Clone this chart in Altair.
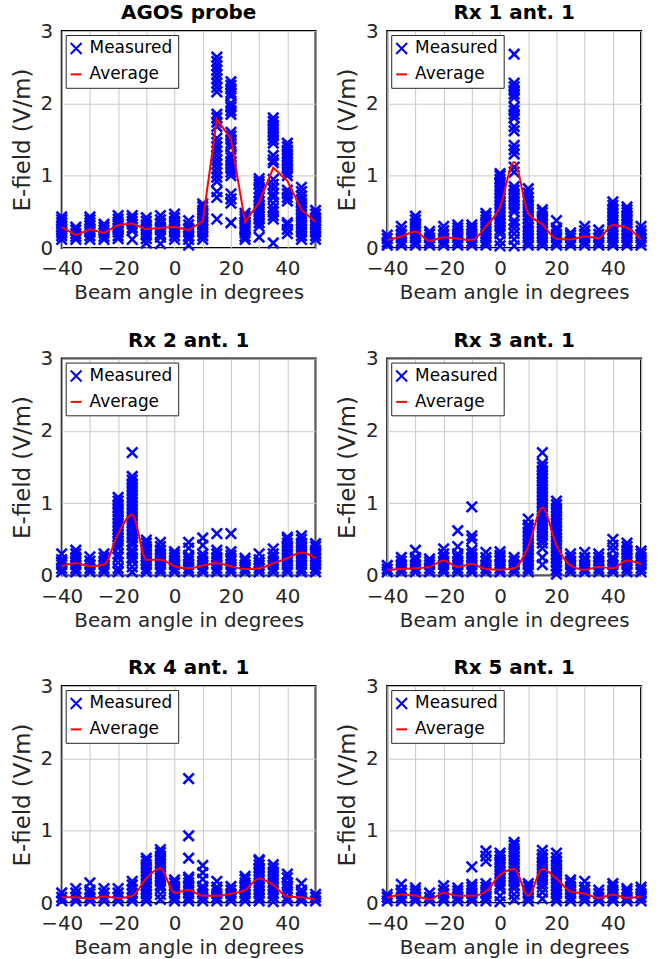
import altair as alt
import pandas as pd

# Beam steering angles (degrees)
ANGLES = [-40, -35, -30, -25, -20, -15, -10, -5, 0, 5, 10, 15, 20, 25, 30, 35, 40, 45, 50]
SERIES = ["Measured", "Average"]
X_GRID = [-40, -30, -20, -10, 0, 10, 20, 30, 40, 50]
Y_GRID = [0, 0.5, 1, 1.5, 2, 2.5, 3]

# --- AGOS probe -------------------------------------------------------------
agos_avg = [0.29, 0.18, 0.26, 0.21, 0.32, 0.34, 0.26, 0.28, 0.29, 0.25,
            0.37, 1.78, 1.51, 0.36, 0.63, 1.11, 0.93, 0.53, 0.36]
agos_meas = [
    "0.12 0.17 0.21 0.26 0.30 0.35 0.39 0.43",
    "0.12 0.16 0.20 0.25 0.29",
    "0.12 0.17 0.22 0.26 0.31 0.35 0.39 0.43",
    "0.12 0.16 0.21 0.25 0.29 0.33",
    "0.13 0.17 0.22 0.27 0.31 0.36 0.40 0.45",
    "0.12 0.24 0.28 0.33 0.37 0.41 0.45",
    "0.07 0.13 0.18 0.22 0.27 0.32 0.37 0.42",
    "0.06 0.15 0.20 0.25 0.29 0.34 0.39 0.45",
    "0.12 0.17 0.22 0.27 0.32 0.37 0.42 0.47",
    "0.04 0.12 0.17 0.22 0.27 0.32 0.38",
    "0.12 0.17 0.22 0.27 0.32 0.37 0.42 0.47 0.52 0.57 0.61",
    "0.40 0.70 0.78 0.92 0.98 1.04 1.10 1.16 1.22 1.28 1.34 1.40 1.46 1.52 1.68 1.74 1.80 1.85 2.16 2.22 2.28 2.34 2.40 2.46 2.52 2.58 2.64",
    "0.35 0.62 0.68 0.75 1.00 1.05 1.10 1.15 1.20 1.25 1.30 1.40 1.45 1.50 1.55 1.60 1.85 1.90 1.95 2.00 2.10 2.15 2.20 2.25 2.30",
    "0.12 0.16 0.21 0.26 0.30 0.35 0.40 0.44 0.48",
    "0.15 0.30 0.35 0.40 0.45 0.50 0.55 0.60 0.65 0.70 0.76 0.82 0.88 0.92 0.96",
    "0.07 0.40 0.45 0.50 0.55 0.62 0.70 0.75 0.82 0.88 0.95 1.18 1.22 1.28 1.45 1.50 1.55 1.60 1.65 1.70 1.75 1.80",
    "0.20 0.26 0.32 0.35 0.65 0.70 0.75 0.80 1.00 1.05 1.10 1.15 1.20 1.25 1.30 1.35 1.40 1.45",
    "0.12 0.17 0.22 0.27 0.32 0.37 0.42 0.47 0.52 0.57 0.62 0.67 0.72 0.78 0.84",
    "0.12 0.17 0.22 0.27 0.32 0.37 0.42 0.47 0.52",
]

# --- Rx 1 ant. 1 ------------------------------------------------------------
rx1_avg = [0.11, 0.16, 0.23, 0.10, 0.15, 0.13, 0.11, 0.30, 0.57, 1.19,
           0.48, 0.33, 0.13, 0.12, 0.16, 0.14, 0.32, 0.28, 0.12]
rx1_meas = [
    "0.04 0.08 0.13 0.18",
    "0.04 0.09 0.14 0.19 0.24 0.30",
    "0.04 0.09 0.14 0.19 0.24 0.29 0.34 0.39 0.44",
    "0.04 0.09 0.14 0.19 0.23",
    "0.04 0.09 0.14 0.19 0.24 0.30",
    "0.04 0.09 0.14 0.19 0.24 0.28 0.32",
    "0.04 0.09 0.14 0.19 0.24 0.28 0.32",
    "0.04 0.09 0.14 0.19 0.24 0.29 0.34 0.39 0.44 0.48",
    "0.03 0.10 0.20 0.25 0.30 0.35 0.40 0.45 0.50 0.55 0.60 0.65 0.70 0.75 0.80 0.85 0.90 0.95 1.00 1.03",
    "0.03 0.12 0.20 0.27 0.33 0.38 0.50 0.55 0.60 0.65 0.70 0.75 0.80 0.85 1.05 1.12 1.30 1.36 1.42 1.62 1.68 1.80 1.85 1.90 1.95 2.08 2.13 2.18 2.23 2.28 2.68",
    "0.04 0.09 0.14 0.19 0.24 0.29 0.34 0.40 0.45 0.50 0.55 0.60 0.65 0.70 0.76 0.82",
    "0.04 0.09 0.14 0.19 0.24 0.29 0.34 0.39 0.44 0.49 0.53",
    "0.04 0.09 0.14 0.19 0.24 0.28 0.38",
    "0.04 0.09 0.14 0.18 0.21",
    "0.04 0.09 0.14 0.19 0.24 0.30",
    "0.04 0.09 0.14 0.19 0.25",
    "0.04 0.09 0.14 0.19 0.24 0.29 0.34 0.39 0.44 0.49 0.54 0.59 0.64",
    "0.04 0.09 0.14 0.19 0.24 0.29 0.34 0.39 0.44 0.49 0.53 0.57",
    "0.04 0.09 0.14 0.19 0.24 0.30",
]

# --- Rx 2 ant. 1 ------------------------------------------------------------
rx2_avg = [0.13, 0.17, 0.13, 0.15, 0.58, 0.84, 0.22, 0.22, 0.13, 0.10,
           0.14, 0.17, 0.13, 0.09, 0.10, 0.17, 0.24, 0.32, 0.24]
rx2_meas = [
    "0.05 0.10 0.15 0.19 0.22 0.30",
    "0.05 0.10 0.15 0.20 0.25 0.30 0.35",
    "0.05 0.10 0.15 0.20 0.26",
    "0.05 0.10 0.15 0.20 0.25 0.30",
    "0.05 0.10 0.18 0.25 0.30 0.38 0.43 0.48 0.53 0.58 0.63 0.68 0.73 0.78 0.83 0.88 0.93 0.98 1.03 1.08",
    "0.05 0.12 0.20 0.25 0.30 0.35 0.42 0.47 0.52 0.57 0.62 0.67 0.72 0.77 0.82 0.87 0.92 0.97 1.02 1.07 1.12 1.17 1.22 1.27 1.32 1.37 1.70",
    "0.05 0.10 0.15 0.20 0.25 0.30 0.35 0.40 0.45 0.49",
    "0.05 0.10 0.15 0.20 0.25 0.30 0.35 0.40 0.46",
    "0.05 0.10 0.15 0.20 0.25 0.29 0.33",
    "0.05 0.10 0.15 0.20 0.24 0.28 0.38 0.46",
    "0.05 0.10 0.15 0.20 0.25 0.30 0.42 0.52",
    "0.05 0.10 0.15 0.20 0.25 0.30 0.35 0.58",
    "0.05 0.10 0.15 0.20 0.24 0.28 0.33 0.58",
    "0.05 0.10 0.15 0.20 0.24",
    "0.05 0.10 0.14 0.18 0.22 0.30",
    "0.05 0.10 0.15 0.20 0.25 0.30 0.37",
    "0.05 0.10 0.15 0.20 0.25 0.30 0.35 0.40 0.45 0.50 0.53",
    "0.05 0.10 0.15 0.20 0.25 0.30 0.35 0.40 0.45 0.50 0.55",
    "0.05 0.10 0.15 0.20 0.25 0.30 0.35 0.40 0.44",
]

# --- Rx 3 ant. 1 ------------------------------------------------------------
rx3_avg = [0.08, 0.09, 0.10, 0.12, 0.21, 0.12, 0.16, 0.09, 0.08, 0.10,
           0.40, 0.94, 0.42, 0.14, 0.08, 0.12, 0.10, 0.21, 0.16]
rx3_meas = [
    "0.05 0.09 0.14",
    "0.05 0.10 0.15 0.20 0.25",
    "0.05 0.10 0.15 0.20 0.25 0.35",
    "0.05 0.10 0.15 0.19 0.23",
    "0.05 0.10 0.15 0.20 0.25 0.30 0.37",
    "0.05 0.10 0.15 0.20 0.25 0.30 0.40 0.62",
    "0.05 0.10 0.15 0.20 0.25 0.30 0.35 0.50 0.55 0.95",
    "0.05 0.10 0.15 0.20 0.25 0.32",
    "0.05 0.10 0.15 0.20 0.25 0.28 0.33",
    "0.05 0.10 0.15 0.20 0.25",
    "0.05 0.10 0.15 0.20 0.25 0.30 0.35 0.40 0.45 0.50 0.55 0.60 0.65 0.70 0.78",
    "0.15 0.25 0.38 0.45 0.50 0.55 0.60 0.65 0.70 0.75 0.80 0.85 0.90 0.95 1.00 1.05 1.10 1.15 1.20 1.25 1.30 1.35 1.40 1.45 1.50 1.55 1.70",
    "0.02 0.08 0.13 0.18 0.23 0.28 0.33 0.38 0.43 0.48 0.53 0.58 0.63 0.68 0.73 0.78 0.83 0.88 0.93 0.98 1.03",
    "0.05 0.10 0.15 0.20 0.25 0.30",
    "0.05 0.10 0.15 0.20 0.25 0.32",
    "0.05 0.10 0.15 0.20 0.25 0.30",
    "0.05 0.10 0.15 0.20 0.25 0.35 0.42 0.50",
    "0.05 0.10 0.15 0.20 0.25 0.30 0.35 0.40 0.45",
    "0.05 0.10 0.15 0.20 0.25 0.30 0.34",
]

# --- Rx 4 ant. 1 ------------------------------------------------------------
rx4_avg = [0.08, 0.08, 0.06, 0.09, 0.07, 0.10, 0.34, 0.48, 0.14, 0.18,
           0.10, 0.10, 0.13, 0.18, 0.34, 0.25, 0.09, 0.08, 0.05]
rx4_meas = [
    "0.03 0.08 0.14",
    "0.03 0.08 0.14 0.20",
    "0.03 0.08 0.13 0.18 0.28",
    "0.03 0.08 0.14 0.20",
    "0.03 0.08 0.14 0.20",
    "0.03 0.08 0.13 0.19 0.25 0.30",
    "0.03 0.08 0.13 0.18 0.23 0.28 0.33 0.38 0.43 0.48 0.53 0.58 0.62",
    "0.05 0.12 0.20 0.25 0.30 0.35 0.40 0.45 0.50 0.55 0.60 0.65 0.70 0.74",
    "0.03 0.08 0.13 0.18 0.23 0.28 0.32",
    "0.03 0.08 0.13 0.18 0.23 0.28 0.33 0.36 0.62 0.93 1.72",
    "0.03 0.08 0.13 0.18 0.23 0.33 0.42 0.52",
    "0.03 0.08 0.13 0.18 0.22 0.30",
    "0.03 0.08 0.13 0.18 0.23",
    "0.03 0.08 0.13 0.18 0.23 0.28 0.33 0.37",
    "0.03 0.08 0.13 0.18 0.23 0.28 0.33 0.38 0.43 0.48 0.53 0.58 0.60",
    "0.02 0.08 0.13 0.18 0.23 0.28 0.33 0.38 0.43 0.48 0.53",
    "0.03 0.08 0.15 0.20 0.24 0.28 0.35 0.40",
    "0.03 0.08 0.13 0.18 0.27",
    "0.03 0.08 0.12",
]

# --- Rx 5 ant. 1 ------------------------------------------------------------
rx5_avg = [0.07, 0.12, 0.10, 0.05, 0.14, 0.10, 0.10, 0.16, 0.39, 0.47,
           0.10, 0.47, 0.34, 0.16, 0.13, 0.07, 0.12, 0.07, 0.09]
rx5_meas = [
    "0.03 0.08 0.12",
    "0.03 0.08 0.13 0.18 0.26",
    "0.03 0.08 0.13 0.17 0.21",
    "0.03 0.08 0.14",
    "0.03 0.08 0.13 0.18 0.24",
    "0.03 0.08 0.13 0.17 0.21",
    "0.03 0.08 0.13 0.18 0.22 0.26 0.50",
    "0.03 0.08 0.13 0.18 0.22 0.27 0.58 0.65 0.72",
    "0.02 0.10 0.20 0.25 0.30 0.35 0.40 0.45 0.50 0.55 0.60 0.65 0.69",
    "0.05 0.12 0.20 0.25 0.30 0.35 0.40 0.45 0.50 0.55 0.60 0.65 0.70 0.75 0.80 0.84",
    "0.03 0.08 0.13 0.18 0.23 0.27",
    "0.06 0.15 0.22 0.27 0.32 0.37 0.42 0.47 0.52 0.57 0.62 0.67 0.73",
    "0.03 0.08 0.13 0.18 0.23 0.28 0.33 0.38 0.43 0.48 0.53 0.58 0.63 0.69",
    "0.03 0.08 0.13 0.18 0.23 0.28 0.32",
    "0.03 0.08 0.13 0.18 0.22 0.30",
    "0.03 0.08 0.13 0.18",
    "0.03 0.08 0.13 0.18 0.23 0.27",
    "0.03 0.08 0.13 0.17 0.20",
    "0.03 0.08 0.13 0.18 0.22",
]

PANELS = [
    ("AGOS probe", agos_meas, agos_avg, "linear"),
    ("Rx 1 ant. 1", rx1_meas, rx1_avg, "monotone"),
    ("Rx 2 ant. 1", rx2_meas, rx2_avg, "monotone"),
    ("Rx 3 ant. 1", rx3_meas, rx3_avg, "monotone"),
    ("Rx 4 ant. 1", rx4_meas, rx4_avg, "monotone"),
    ("Rx 5 ant. 1", rx5_meas, rx5_avg, "monotone"),
]

CROSS = "M-1,-1L1,1M-1,1L1,-1"
FONT = "DejaVu Sans"
BLUE = "#0000ff"
RED = "#ff0000"


def panel(title, measured, average, interp):
    meas_df = pd.DataFrame(
        [{"angle": a, "efield": float(v), "series": "Measured"}
         for a, col in zip(ANGLES, measured) for v in col.split()]
    )
    avg_df = pd.DataFrame(
        [{"angle": a, "efield": v, "series": "Average"} for a, v in zip(ANGLES, average)]
    )

    x = alt.X(
        "angle:Q",
        scale=alt.Scale(domain=[-40, 50], nice=False, zero=False),
        axis=alt.Axis(
            values=X_GRID,
            labelExpr="datum.value % 20 == 0 ? datum.label : ''",
            labelOverlap=False,
            labelFlush=False,
            labelPadding=11,
            titlePadding=4,
            title="Beam angle in degrees",
        ),
    )
    y = alt.Y(
        "efield:Q",
        scale=alt.Scale(domain=[0, 3], nice=False),
        axis=alt.Axis(
            values=Y_GRID,
            format="d",
            labelExpr="datum.value % 1 == 0 ? datum.label : ''",
            labelOverlap=False,
            labelFlush=False,
            labelPadding=9,
            titlePadding=6,
            title="E-field (V/m)",
            titleFontSize=23,
        ),
    )
    color = alt.Color(
        "series:N",
        scale=alt.Scale(domain=SERIES, range=[BLUE, RED]),
        legend=alt.Legend(title=None),
    )
    shape = alt.Shape(
        "series:N",
        scale=alt.Scale(domain=SERIES, range=[CROSS, "stroke"]),
        legend=alt.Legend(title=None),
    )

    points = alt.Chart(meas_df).mark_point(
        filled=False, size=110, strokeWidth=2.6, opacity=1
    ).encode(x=x, y=y, color=color, shape=shape)

    line = alt.Chart(avg_df).mark_line(
        strokeWidth=2, interpolate=interp
    ).encode(x=x, y=y, color=color)

    return alt.layer(points, line).properties(
        width=255,
        height=218,
        title=alt.TitleParams(title, fontSize=20, fontWeight="bold", font=FONT,
                              color="black", offset=-2, frame="group"),
    )


charts = [panel(*p) for p in PANELS]

chart = alt.concat(
    *charts, columns=2, spacing={"row": 111, "column": 72}, bounds="flush"
).resolve_scale(
    color="independent", shape="independent"
).properties(
    padding={"left": 10, "top": 0, "right": 5, "bottom": 5},
    background="white",
).configure_view(
    stroke="black", strokeWidth=2
).configure_axis(
    grid=True,
    gridColor="#c8c8c8",
    gridWidth=1,
    domain=False,
    ticks=False,
    labelFont=FONT,
    labelFontSize=20,
    labelColor="#262626",
    titleFont=FONT,
    titleFontSize=20,
    titleFontWeight="normal",
    titleColor="#262626",
).configure_legend(
    orient="top-left",
    offset=4,
    padding=5,
    strokeColor="#262626",
    fillColor="white",
    labelFont=FONT,
    labelFontSize=17,
    labelColor="black",
    symbolSize=120,
    symbolStrokeWidth=2,
    symbolOffset=-3,
    labelOffset=5,
    rowPadding=7,
)

chart.save("out.html", embed_options={"renderer": "svg", "actions": False})
